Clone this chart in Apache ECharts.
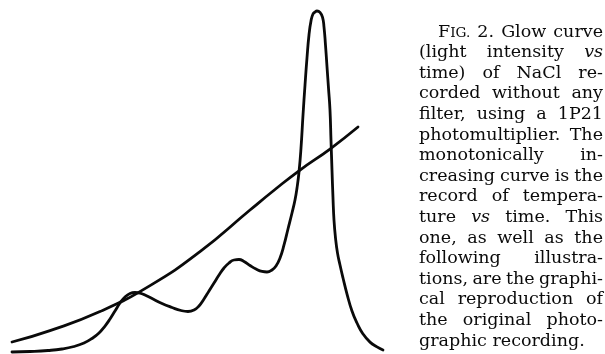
<!DOCTYPE html>
<html>
<head>
<meta charset="utf-8">
<script src="https://cdn.jsdelivr.net/npm/echarts@6/dist/echarts.min.js"></script>
<style>
html,body{margin:0;padding:0;background:#fff;}
#main{width:605px;height:354px;}
</style>
</head>
<body>
<div id="main"></div>
<script>
// Glow curve (light intensity vs time), arbitrary units
const glowTime = [0,4.85,9.70,13.48,16.71,19.41,21.56,23.45,25.07,26.42,27.76,29.11,30.46,31.81,33.15,34.50,36.12,38.01,40.43,43.13,45.55,47.44,49.06,50.40,51.75,53.10,54.45,55.80,57.14,58.49,59.84,61.19,62.53,64.15,65.77,67.39,68.73,70.08,71.16,72.24,73.32,74.39,75.47,76.28,76.82,77.36,77.90,78.44,78.98,79.51,80.05,80.59,81.13,81.67,82.21,83.02,83.69,84.10,84.50,84.91,85.31,85.71,85.98,86.25,86.52,86.79,87.20,87.74,88.41,89.22,90.30,91.64,92.99,94.61,96.50,98.38,100];
const glowIntensity = [0,0.15,0.44,0.88,1.61,2.64,3.96,5.57,7.62,9.68,12.02,14.37,16.13,17.16,17.45,17.30,16.57,15.54,14.22,13.05,12.17,11.88,12.32,13.49,15.54,17.89,20.23,22.58,24.63,26.10,26.98,27.13,26.54,25.37,24.34,23.61,23.46,24.05,25.22,27.57,31.38,36.07,40.76,44.57,48.09,52.79,59.82,69.50,78.30,86.22,92.96,97.07,99.12,99.7,100,99.6,98.2,95.3,90.0,83.6,77.4,71.0,62.2,53.4,45.2,38.7,33.4,29.0,25.5,21.7,17.0,12.0,8.5,5.3,2.9,1.5,0.6];
// Temperature record vs time
const tempTime = [0,10.24,23.72,37.20,50.67,64.15,70.89,77.63,85.71,93.26];
const tempValue = [2.93,6.28,11.85,19.47,29.44,41.64,47.65,53.37,59.53,65.98];

// Caption text
const captionLines = [
  "FIG. 2. Glow curve",
  "(light intensity vs",
  "time) of NaCl re-",
  "corded without any",
  "filter, using a 1P21",
  "photomultiplier. The",
  "monotonically in-",
  "creasing curve is the",
  "record of tempera-",
  "ture vs time. This",
  "one, as well as the",
  "following illustra-",
  "tions, are the graphi-",
  "cal reproduction of",
  "the original photo-",
  "graphic recording."
];
const italicWords = ["vs"];
const smallCapWords = {"FIG.": ["F", "IG."]};

const FONT_FAMILY = '"DejaVu Serif", "Liberation Serif", serif';
const ctx = document.createElement('canvas').getContext('2d');
function measure(text, size, italic) {
  ctx.font = (italic ? 'italic ' : '') + size + 'px ' + FONT_FAMILY;
  return ctx.measureText(text).width;
}
const TEXT_LEFT = 419, TEXT_RIGHT = 603, FIRST_INDENT = 438;
const LINE0 = 32, LINE_H = 20.6;
const tight = measure("photomultiplier. The", 1, false);
const fontSize = Math.min(17.5, (TEXT_RIGHT - TEXT_LEFT) / tight);
const smallSize = fontSize * 0.78;

function wordSegments(w) {
  if (smallCapWords[w]) {
    const p = smallCapWords[w];
    return [{t: p[0], size: fontSize, italic: false}, {t: p[1], size: smallSize, italic: false}];
  }
  return [{t: w, size: fontSize, italic: italicWords.indexOf(w) >= 0}];
}

const graphics = [];
captionLines.forEach(function (line, i) {
  const words = line.split(' ');
  const segs = words.map(wordSegments);
  const widths = segs.map(function (s) {
    return s.reduce(function (a, g) { return a + measure(g.t, g.size, g.italic); }, 0);
  });
  const startX = i === 0 ? FIRST_INDENT : TEXT_LEFT;
  const total = widths.reduce(function (a, b) { return a + b; }, 0);
  const last = i === captionLines.length - 1;
  const gap = last ? measure(' ', fontSize, false) : (TEXT_RIGHT - startX - total) / (words.length - 1);
  let x = startX;
  const y = LINE0 + i * LINE_H;
  segs.forEach(function (s, k) {
    let sx = x;
    s.forEach(function (g) {
      graphics.push({
        type: 'text', silent: true,
        x: sx, y: y + 0.3 * (fontSize - g.size),
        style: {
          text: g.t, fill: '#0a0a0a',
          fontSize: g.size, fontFamily: FONT_FAMILY,
          fontStyle: g.italic ? 'italic' : 'normal',
          align: 'left', verticalAlign: 'middle'
        }
      });
      sx += measure(g.t, g.size, g.italic);
    });
    x += widths[k] + gap;
  });
});

function pairs(xs, ys) { return xs.map(function (v, i) { return [v, ys[i]]; }); }

const chart = echarts.init(document.getElementById('main'), null, {renderer: 'canvas'});
chart.setOption({
  animation: false,
  backgroundColor: '#fff',
  grid: {left: 12, top: 11, width: 371, height: 341},
  xAxis: {type: 'value', min: 0, max: 100, show: false},
  yAxis: {type: 'value', min: 0, max: 100, show: false},
  series: [
    {
      name: 'Glow curve', type: 'line', data: pairs(glowTime, glowIntensity),
      smooth: 0.5, showSymbol: false, clip: false,
      lineStyle: {color: '#0a0a0a', width: 2.8, cap: 'round', join: 'round'}
    },
    {
      name: 'Temperature', type: 'line', data: pairs(tempTime, tempValue),
      smooth: 0.5, showSymbol: false, clip: false,
      lineStyle: {color: '#0a0a0a', width: 2.8, cap: 'round', join: 'round'}
    }
  ],
  graphic: graphics
});
</script>
</body>
</html>
